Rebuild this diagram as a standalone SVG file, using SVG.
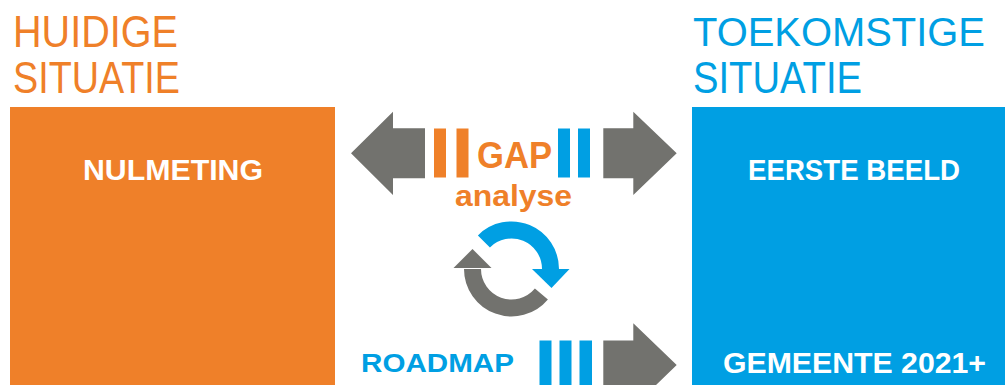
<svg xmlns="http://www.w3.org/2000/svg" width="1005" height="385" viewBox="0 0 1005 385">
<style>
.head{font-family:"Liberation Sans",Arial,sans-serif;font-size:44px;}
.head2{font-family:"Liberation Sans",Arial,sans-serif;font-size:40px;}
.or{fill:#EF8029;}
.bl{fill:#009FE3;}
.gr{fill:#72726E;}
.lbl{font-family:"Liberation Sans",Arial,sans-serif;font-weight:bold;fill:#FFFFFF;font-size:29px;}
.mid{font-family:"Liberation Sans",Arial,sans-serif;font-weight:bold;}
.arc{fill:none;stroke-width:17;stroke-linecap:butt;}
</style>
<rect width="1005" height="385" fill="#FFFFFF"/>
<g id="huidige">
<text class="head or" x="13" y="47" textLength="165" lengthAdjust="spacingAndGlyphs">HUIDIGE</text>
<text class="head or" x="13" y="93" textLength="167" lengthAdjust="spacingAndGlyphs">SITUATIE</text>
<rect class="or" x="10" y="107" width="325" height="278"/>
<text class="lbl" x="83" y="180" textLength="180" lengthAdjust="spacingAndGlyphs">NULMETING</text>
</g>
<g id="toekomstige">
<text class="head2 bl" x="693" y="46" textLength="292" lengthAdjust="spacingAndGlyphs">TOEKOMSTIGE</text>
<text class="head bl" x="693" y="93" textLength="169" lengthAdjust="spacingAndGlyphs">SITUATIE</text>
<rect class="bl" x="692" y="107" width="313" height="278"/>
<text class="lbl" x="748" y="180" textLength="212" lengthAdjust="spacingAndGlyphs">EERSTE BEELD</text>
<text class="lbl" x="723" y="373" textLength="263" lengthAdjust="spacingAndGlyphs">GEMEENTE 2021+</text>
</g>
<g id="connectors">
<polygon class="gr" points="351,153.3 393,111.7 393,128.3 425,128.3 425,178.3 393,178.3 393,195"/>
<polygon class="gr" points="676.7,153.3 633.3,111.7 633.3,128.3 603.3,128.3 603.3,178.3 633.3,178.3 633.3,195"/>
<rect class="or" x="434" y="128.5" width="12" height="49"/>
<rect class="or" x="456.5" y="128.5" width="12" height="49"/>
<rect class="bl" x="558" y="128.5" width="12" height="49"/>
<rect class="bl" x="578" y="128.5" width="12" height="49"/>
<polygon class="gr" points="676.7,365 633.3,323.3 633.3,340.5 603.3,340.5 603.3,390 633.3,390 633.3,407"/>
<rect class="bl" x="539.5" y="340.5" width="12" height="45"/>
<rect class="bl" x="559.5" y="340.5" width="12" height="45"/>
<rect class="bl" x="579.5" y="340.5" width="12.5" height="45"/>
</g>
<g id="gap">
<text class="mid or" x="477" y="168" font-size="37" textLength="75" lengthAdjust="spacingAndGlyphs">GAP</text>
<text class="mid or" x="455" y="206" font-size="29" textLength="117" lengthAdjust="spacingAndGlyphs">analyse</text>
</g>
<g id="cycle">
<path class="arc" stroke="#009FE3" d="M 483.9 241.4 A 39 39 0 0 1 550.5 269"/>
<polygon class="bl" points="532,269 569.5,269 551.5,288"/>
<path class="arc" stroke="#72726E" d="M 541.4 294 A 39 39 0 0 1 472.5 269"/>
<polygon class="gr" points="453.5,268 491.5,268 472.5,249"/>
</g>
<g id="roadmap">
<text class="mid bl" x="361" y="372" font-size="26" textLength="153" lengthAdjust="spacingAndGlyphs">ROADMAP</text>
</g>
</svg>
